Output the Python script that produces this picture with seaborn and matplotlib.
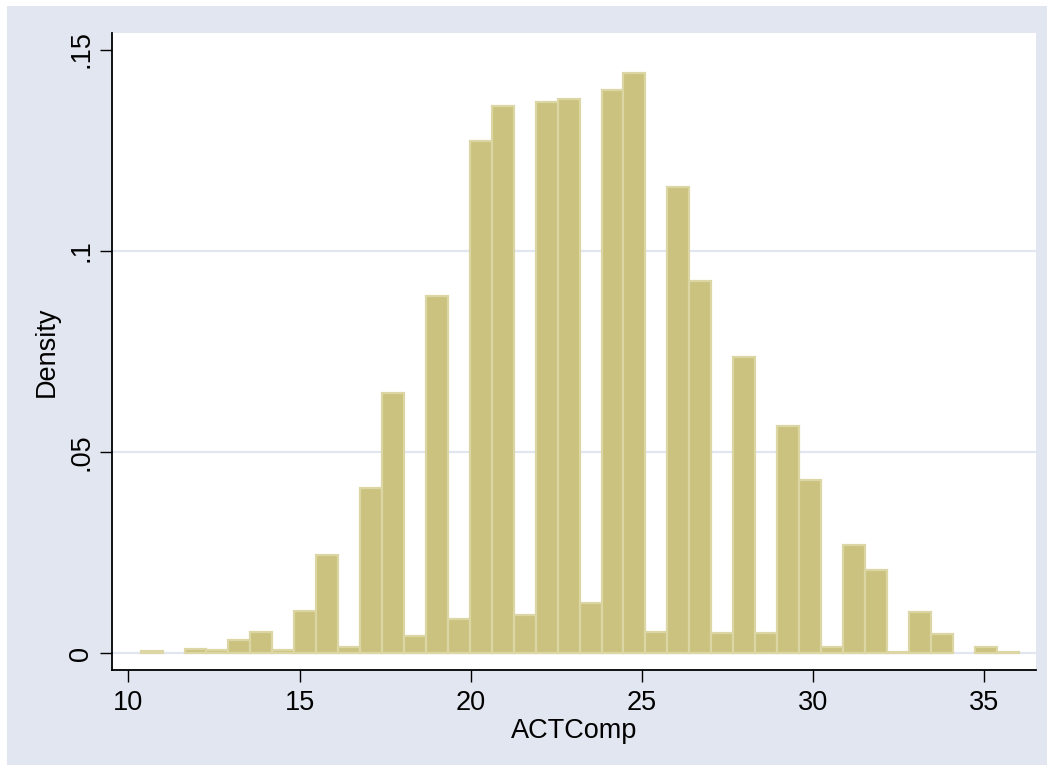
import numpy as np
import pandas as pd
import matplotlib.pyplot as plt
import seaborn as sns
from matplotlib.patches import Rectangle

# histogram bins (Stata default: 40 equal bins from min to max)
bin_start = 10.36
bin_end = 36.0
n_bins = 40

# density height of each bin
density = [0.0005, 0.0, 0.0010, 0.0007, 0.0033, 0.0054, 0.0009, 0.0105,
           0.0244, 0.0015, 0.0410, 0.0647, 0.0042, 0.0888, 0.0084, 0.1273,
           0.1360, 0.0095, 0.1370, 0.1377, 0.0124, 0.1399, 0.1442, 0.0052,
           0.1159, 0.0925, 0.0050, 0.0736, 0.0050, 0.0565, 0.0431, 0.0016,
           0.0269, 0.0207, 0.0003, 0.0102, 0.0048, 0.0, 0.0016, 0.0003]

x_ticks = [10, 15, 20, 25, 30, 35]
y_ticks = [0, 0.05, 0.1, 0.15]
y_labels = ['0', '.05', '.1', '.15']

edges = np.linspace(bin_start, bin_end, n_bins + 1)
mids = (edges[:-1] + edges[1:]) / 2
df = pd.DataFrame({'ACTComp': mids, 'density': density})

sns.set_theme(style='white')
plt.rcParams['font.family'] = ['Liberation Sans', 'DejaVu Sans']
plt.rcParams['text.color'] = 'black'
plt.rcParams['axes.labelcolor'] = 'black'
plt.rcParams['xtick.color'] = 'black'
plt.rcParams['ytick.color'] = 'black'

W, H = 1053, 771
fig = plt.figure(figsize=(W / 100, H / 100), dpi=100)
fig.patch.set_facecolor('white')
# outer graph region
fig.patches.append(Rectangle((7 / W, 6 / H), 1040 / W, 759 / H,
                             transform=fig.transFigure, facecolor='#e2e6f0',
                             edgecolor='none', zorder=-1))

ax = fig.add_axes([111.7 / W, (H - 670) / H, (1036 - 111.7) / W, (670 - 33) / H])
ax.set_facecolor('white')

sns.histplot(data=df, x='ACTComp', weights='density', bins=n_bins,
             binrange=(bin_start, bin_end), stat='count',
             color='#cac27e', edgecolor='#dcd6a4', linewidth=1.6, alpha=1,
             ax=ax, zorder=3)
# empty bins draw nothing in the original
for p in ax.patches:
    if p.get_height() == 0:
        p.set_visible(False)

ax.set_xlim(9.515, 36.51)
ax.set_ylim(-0.00415, 0.1541)
ax.set_xticks(x_ticks)
ax.set_yticks(y_ticks)
ax.set_yticklabels(y_labels, rotation=90, va='center')

ax.grid(axis='y', color='#e2e6f0', linewidth=1.6, zorder=0)
ax.set_axisbelow(True)
ax.get_ygridlines()[-1].set_visible(False)

for s in ['top', 'right']:
    ax.spines[s].set_visible(False)
for s in ['left', 'bottom']:
    ax.spines[s].set_color('black')
    ax.spines[s].set_linewidth(1.3)

ax.tick_params(axis='both', which='major', direction='out', length=8.5,
               width=1.0, labelsize=19.5, bottom=True, left=True)
ax.tick_params(axis='x', pad=6)
ax.tick_params(axis='y', pad=4)
ax.set_xlabel('ACTComp', fontsize=19.5, labelpad=1)
ax.set_ylabel('Density', fontsize=19.5, labelpad=6)

fig.savefig('out.png', dpi=100, facecolor=fig.get_facecolor())
